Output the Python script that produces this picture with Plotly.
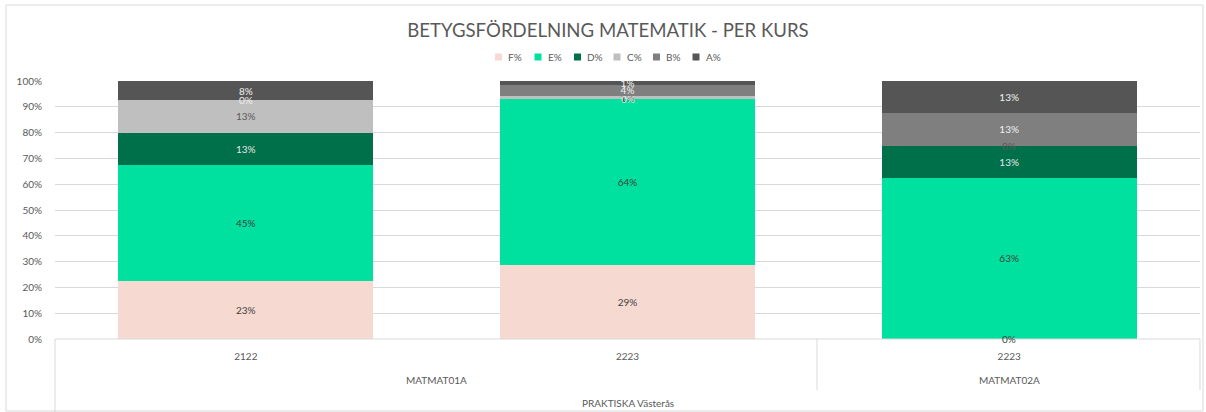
import plotly.graph_objects as go

# Data
years = ["2122", "2223", "2223"]
courses = ["MATMAT01A", "MATMAT01A", "MATMAT02A"]
school = "PRAKTISKA Västerås"
grades = ["F%", "E%", "D%", "C%", "B%", "A%"]
F = [0.225, 0.286, 0.0]
E = [0.45, 0.643, 0.625]
D = [0.125, 0.0, 0.125]
C = [0.125, 0.014, 0.0]
B = [0.0, 0.043, 0.125]
A = [0.075, 0.014, 0.125]
series = [F, E, D, C, B, A]

colors = ["#F6D9D0", "#00E09E", "#00704A", "#BFBFBF", "#7F7F7F", "#555555"]
label_colors = ["#404040", "#404040", "#E6E6E6", "#595959", "#F2F2F2", "#F2F2F2"]

FONT = "Lato"
W, H = 1206, 412
L, R, T, Bm = 55, 6, 81, 73
pw, ph = W - L - R, H - T - Bm

def px(x):
    return (x - L) / pw

def py(y):
    return (H - Bm - y) / ph

def pct(v):
    return f"{round(v * 100 + 1e-9):.0f}%"

xs = list(range(len(years)))
fig = go.Figure()
for name, vals, col, lc in zip(grades, series, colors, label_colors):
    fig.add_trace(go.Bar(
        x=xs, y=vals, name=name, width=0.668,
        marker=dict(color=col, line=dict(width=0)),
        text=[pct(v) if v > 0 else "" for v in vals],
        textposition="inside", insidetextanchor="middle",
        textfont=dict(color=lc, size=10, family=FONT),
        constraintext="none", cliponaxis=False,
        hoverinfo="skip", showlegend=False,
    ))

fig.update_layout(
    width=W, height=H,
    barmode="stack",
    margin=dict(l=L, r=R, t=T, b=Bm),
    paper_bgcolor="white", plot_bgcolor="white",
    font=dict(family=FONT, color="#595959"),
    uniformtext=dict(minsize=10, mode="show"),
    title=dict(text="BETYGSFÖRDELNING MATEMATIK - PER KURS", x=608 / W, xanchor="center",
               y=1 - 30 / H, yanchor="middle",
               font=dict(size=18.6, color="#595959", family=FONT)),
    showlegend=False,
    xaxis=dict(range=[-0.5, 2.5], tickvals=xs, ticktext=years, showgrid=False,
               showline=False, zeroline=False, ticks="", tickfont=dict(size=10, color="#595959"),
               ticklabelstandoff=10, fixedrange=True),
    yaxis=dict(range=[0, 1], dtick=0.1, tickformat=".0%", showgrid=True,
               gridcolor="#D9D9D9", gridwidth=1, zeroline=False, showline=False,
               tickfont=dict(size=10, color="#595959"), ticklabelstandoff=12, fixedrange=True),
)

# Category axis frame
shapes = [
    dict(type="line", xref="paper", yref="paper", x0=0, x1=1, y0=0, y1=0,
         line=dict(color="#D9D9D9", width=1)),
    dict(type="line", xref="paper", yref="paper", x0=0, x1=0, y0=0, y1=py(412),
         line=dict(color="#D9D9D9", width=1)),
    dict(type="line", xref="paper", yref="paper", x0=px(817), x1=px(817), y0=0, y1=py(390),
         line=dict(color="#D9D9D9", width=1)),
    dict(type="line", xref="paper", yref="paper", x0=1, x1=1, y0=0, y1=py(390),
         line=dict(color="#D9D9D9", width=1)),
    # outer chart border
    dict(type="rect", xref="paper", yref="paper", x0=px(6), x1=px(1203), y0=py(411), y1=py(5),
         line=dict(color="#D9D9D9", width=1), layer="below"),
]

ann = [
    dict(text=courses[0], x=0.5, xref="x", y=py(380), yref="paper"),
    dict(text=courses[2], x=2, xref="x", y=py(380), yref="paper"),
    dict(text=school, x=1.0, xref="x", y=py(403), yref="paper"),
]

# Manual legend (compact, like the reference)
lx0, lstep, ly = 495, 39.5, 57
for i, (name, col) in enumerate(zip(grades, colors)):
    x = lx0 + i * lstep
    shapes.append(dict(type="rect", xref="paper", yref="paper",
                       x0=px(x), x1=px(x + 7), y0=py(ly + 3.5), y1=py(ly - 3.5),
                       fillcolor=col, line=dict(width=0)))
    ann.append(dict(text=name, x=px(x + 11), xref="paper", y=py(ly), yref="paper",
                    xanchor="left"))

# Labels for zero-height segments (shown as 0% in the reference)
for j in xs:
    base = 0.0
    for vals, lc in zip(series, label_colors):
        v = vals[j]
        if v == 0:
            ann.append(dict(text=pct(v), x=j, xref="x", y=base, yref="y",
                            font=dict(size=10, color=lc, family=FONT)))
        base += v

for a in ann:
    a.setdefault("xanchor", "center")
    a.setdefault("font", dict(size=10, color="#595959", family=FONT))
    a.update(showarrow=False, yanchor="middle")

fig.update_layout(shapes=shapes, annotations=ann)

fig.write_html("out.html", config={"displayModeBar": False},
               post_script="document.body.style.margin='0';document.body.style.overflow='hidden';")
